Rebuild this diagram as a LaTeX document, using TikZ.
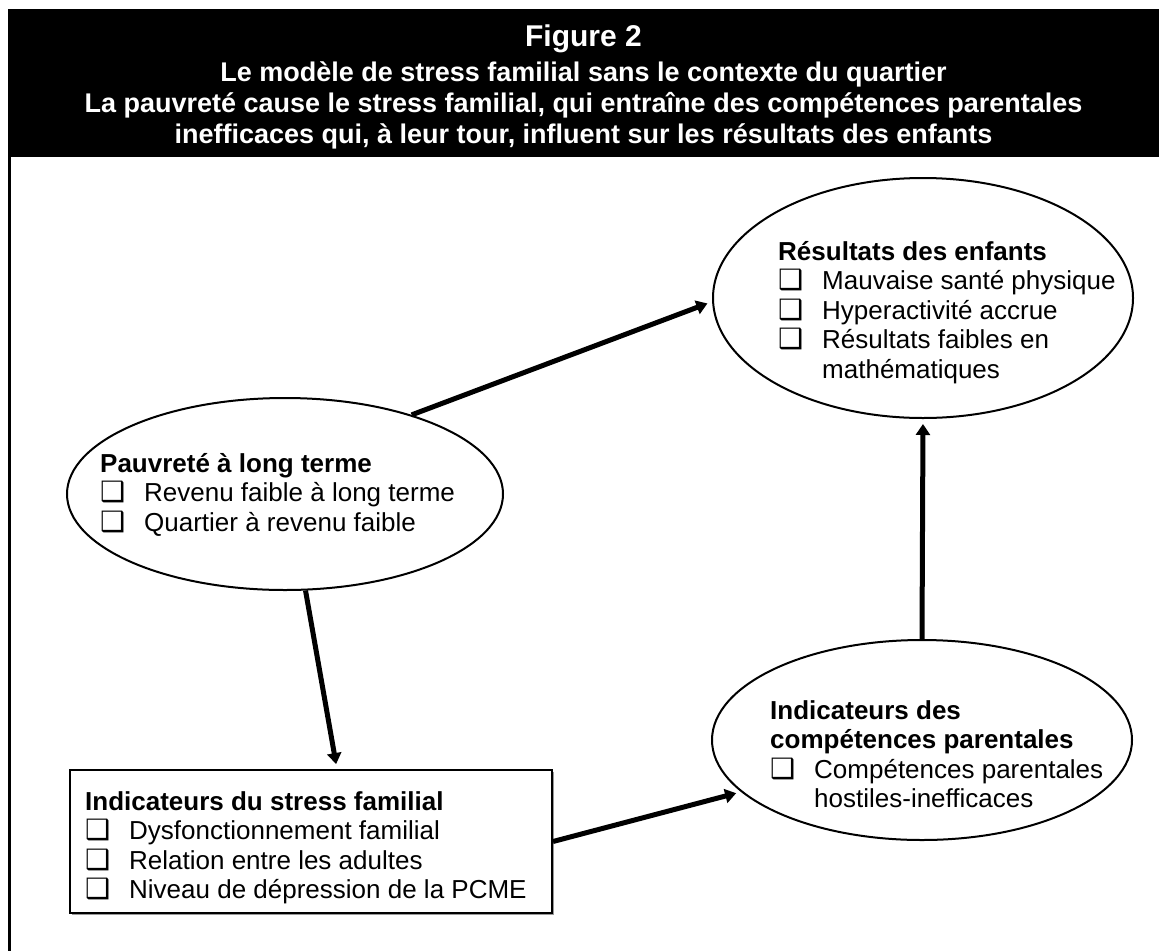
\documentclass[tikz,border=0pt]{standalone}
\usepackage{fontspec}
\setmainfont{Liberation Sans}
\newfontfamily\symbfont{DejaVu Sans}
\usetikzlibrary{
    arrows.meta,
    shapes.geometric,
    shadows
    }

\newcommand{\chk}{\makebox[44pt][l]{\symbfont\fontsize{28}{28}\selectfont ❑}}

\begin{document}
\begin{tikzpicture}[x=1pt, y=-1pt]
\tikzset{oval/.style =
        {
            shape=ellipse,
            line width=2pt,
            draw=black,
            inner sep=0pt
        }
}

\tikzset{stressbox/.style =
        {
            rectangle,
            line width=2pt,
            draw=black,
            fill=white,
            inner sep=0pt,
            drop shadow={shadow xshift=2pt, shadow yshift=-2pt, fill=black!40, opacity=1}
        }
}

\tikzset{itemtext/.style =
        {
            anchor=north west,
            inner sep=0pt,
            align=left,
            font=\fontsize{26}{29.5}\selectfont
        }
}

\tikzset{headtext/.style =
        {
            anchor=base,
            inner sep=0pt,
            text=white,
            font=\bfseries\fontsize{27}{27}\selectfont
        }
}

\tikzset{arr/.style = {
            line width=5pt,
            -{Triangle[length=11pt, width=14pt]},
            shorten >=5pt
        }
}
		\useasboundingbox (0,0) rectangle (1159,951);

		% banner
		\fill[black] (8,9) rectangle (1159,157);
		\draw[line width=3pt] (9.5,157) -- (9.5,951);

		\node[headtext, font=\bfseries\fontsize{30}{30}\selectfont] (title) at (583.5,46) {Figure 2};
		\node[headtext] (sub1) at (583.5,81) {Le modèle de stress familial sans le contexte du quartier};
		\node[headtext] (sub2) at (583.5,112) {La pauvreté cause le stress familial, qui entraîne des compétences parentales};
		\node[headtext] (sub3) at (583.5,143) {inefficaces qui, à leur tour, influent sur les résultats des enfants};

		% shapes
		\node[oval, minimum width=420pt, minimum height=240pt] (res) at (923,298) {};
		\node[oval, minimum width=436pt, minimum height=192pt] (pauv) at (285,494) {};
		\node[oval, minimum width=420pt, minimum height=200pt] (comp) at (922,740) {};
		\node[stressbox, minimum width=482pt, minimum height=143pt] (box) at (311,841.5) {};

		% texts
		\node[itemtext] (res-txt) at (778,241) {\textbf{Résultats des enfants}\\
			\chk Mauvaise santé physique\\
			\chk Hyperactivité accrue\\
			\chk Résultats faibles en\\
			\hspace*{44pt}mathématiques};
		\node[itemtext] (pauv-txt) at (100,453) {\textbf{Pauvreté à long terme}\\
			\chk Revenu faible à long terme\\
			\chk Quartier à revenu faible};
		\node[itemtext] (box-txt) at (85,791) {\textbf{Indicateurs du stress familial}\\
			\chk Dysfonctionnement familial\\
			\chk Relation entre les adultes\\
			\chk Niveau de dépression de la PCME};
		\node[itemtext] (comp-txt) at (770,700) {\textbf{Indicateurs des}\\
			\textbf{compétences parentales}\\
			\chk Compétences parentales\\
			\hspace*{44pt}hostiles-inefficaces};

		\draw[arr] (pauv.32) -- (res.181);
		\draw[arr] (pauv.282) -- ([xshift=26pt]box.north);
		\draw[arr] (box.east) -- (comp.196);
		\draw[arr] (comp.north) -- (res.south);

	\end{tikzpicture}
\end{document}
